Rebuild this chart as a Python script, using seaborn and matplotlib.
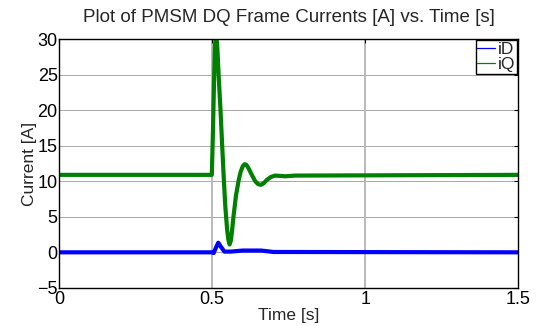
import matplotlib
matplotlib.use("Agg")
import matplotlib.pyplot as plt
import seaborn as sns
import pandas as pd
from matplotlib.lines import Line2D

# Data
t_iq = [0.0, 0.499, 0.503, 0.506, 0.509, 0.513, 0.517, 0.522, 0.528, 0.533,
        0.538, 0.543, 0.549, 0.553, 0.557, 0.561, 0.565, 0.570, 0.578, 0.587,
        0.593, 0.600, 0.606, 0.612, 0.618, 0.624, 0.632, 0.641, 0.650, 0.659,
        0.668, 0.679, 0.692, 0.706, 0.739, 0.771, 1.5]
iq = [10.9, 10.9, 17.5, 23.5, 28.8, 31.0, 28.8, 24.3, 19.5, 14.9,
      10.5, 6.5, 3.2, 1.8, 1.1, 1.6, 3.0, 5.1, 8.0, 10.2,
      11.3, 12.1, 12.4, 12.3, 11.9, 11.4, 10.7, 10.0, 9.6, 9.5,
      9.7, 10.2, 10.6, 10.8, 10.7, 10.8, 10.9]

t_id = [0.0, 0.499, 0.505, 0.512, 0.520, 0.530, 0.540, 0.560, 0.600, 0.660,
        0.700, 1.5]
id_ = [0.0, 0.0, -0.1, 0.6, 1.35, 0.7, 0.1, 0.1, 0.25, 0.25, 0.05, 0.0]

x_ticks = [0, 0.5, 1, 1.5]
x_tick_labels = ["0", "0.5", "1", "1.5"]
y_ticks = [-5, 0, 5, 10, 15, 20, 25, 30]

df = pd.concat([
    pd.DataFrame({"Time": t_id, "Current": id_, "Signal": "iD"}),
    pd.DataFrame({"Time": t_iq, "Current": iq, "Signal": "iQ"}),
], ignore_index=True)

sns.set_style("white")
plt.rcParams["font.family"] = ["Liberation Sans", "DejaVu Sans"]

fig = plt.figure(figsize=(5.37, 3.26), dpi=100)
ax = fig.add_axes([0.110, 0.117, 0.855, 0.763])

# grid
for yv in y_ticks[1:-1]:
    ax.axhline(yv, color="#a8a8a8", lw=0.7, zorder=0)
for xv in x_ticks[1:-1]:
    ax.axvline(xv, color="#b4b4b4", lw=1.3, zorder=0)

sns.lineplot(data=df, x="Time", y="Current", hue="Signal",
             palette={"iD": "#0000ff", "iQ": "#008000"},
             lw=3.0, ax=ax, sort=False, estimator=None, legend=False)

ax.set_xlim(0, 1.5)
ax.set_ylim(-5, 30)
ax.set_xticks(x_ticks)
ax.set_xticklabels(x_tick_labels)
ax.set_yticks(y_ticks)
ax.tick_params(direction="in", length=3, width=0.8, top=True, right=True,
               labelsize=13, colors="black")
ax.tick_params(axis="y", pad=1)
ax.tick_params(axis="x", pad=2)
for s in ax.spines.values():
    s.set_color("black")
    s.set_linewidth(1.0)
    s.set_visible(True)

ax.set_title("Plot of PMSM DQ Frame Currents [A] vs. Time [s]", fontsize=13.5, pad=12)
ax.set_xlabel("Time [s]", fontsize=12.5, labelpad=0)
ax.set_ylabel("Current [A]", fontsize=12.5, labelpad=0)

handles = [Line2D([], [], color="#0000ff", lw=0.9), Line2D([], [], color="#008000", lw=0.9)]
leg = ax.legend(handles, ["iD", "iQ"], loc="upper right", fontsize=12.5,
                frameon=True, fancybox=False, handlelength=1.0, handletextpad=0.2,
                borderpad=0.1, labelspacing=0.0, borderaxespad=0.05)
leg.get_frame().set_edgecolor("black")
leg.get_frame().set_linewidth(1.0)
leg.get_frame().set_alpha(1)

fig.savefig("out.png", dpi=100)
